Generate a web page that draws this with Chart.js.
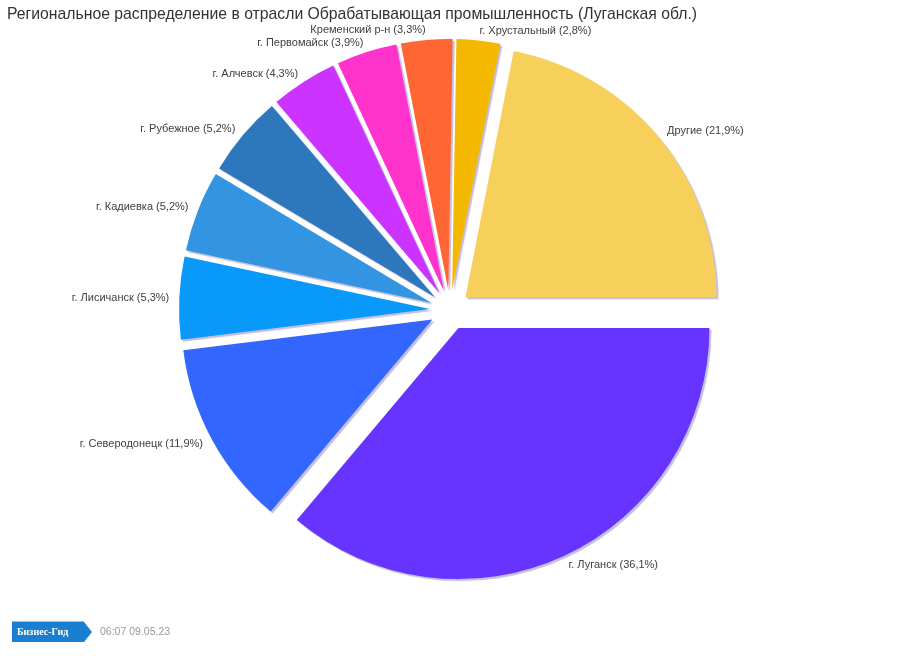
<!DOCTYPE html>
<html lang="ru">
<head>
    <meta charset="UTF-8">
    <title>Региональное распределение</title>
    <script src="https://cdn.jsdelivr.net/npm/chart.js"></script>
    <style>
        html, body {
            margin: 0;
            padding: 0;
            background: #ffffff;
        }
        #wrap {
            width: 900px;
            height: 660px;
            position: relative;
        }
    </style>
</head>
<body>
    <div id="wrap">
        <canvas id="pieChart" width="900" height="660"></canvas>
    </div>

    <script>
        const regions = [
            "г. Луганск",
            "г. Северодонецк",
            "г. Лисичанск",
            "г. Кадиевка",
            "г. Рубежное",
            "г. Алчевск",
            "г. Первомайск",
            "Кременский р-н",
            "г. Хрустальный",
            "Другие"
        ];
        const shares = [36.1, 11.9, 5.3, 5.2, 5.2, 4.3, 3.9, 3.3, 2.8, 21.9];
        const sliceColors = [
            "#6633ff", "#3366ff", "#0899fa", "#3395e2", "#2d77bd",
            "#cc33ff", "#ff33cc", "#ff6633", "#f4b800", "#f7d05c"
        ];
        const chartTitle = "Региональное распределение в отрасли Обрабатывающая промышленность (Луганская обл.)";
        const stamp = "06:07 09.05.23";
        const brand = "Бизнес-Гид";

        const EXPLODE = 20; // вынос секторов от центра, px
        const labelFont = '11px "Liberation Sans", Arial, sans-serif';

        // рисуем сектора сами: каждый сдвинут по биссектрисе, с тенью
        const explodePlugin = {
            id: 'explode',
            beforeDatasetDraw(chart, args) {
                const ctx = chart.ctx;
                ctx.save();
                ctx.shadowColor = 'rgba(120, 110, 170, 0.45)';
                ctx.shadowOffsetX = 2;
                ctx.shadowOffsetY = 2;
                ctx.shadowBlur = 1;
                args.meta.data.forEach(arc => {
                    const mid = (arc.startAngle + arc.endAngle) / 2;
                    ctx.save();
                    ctx.translate(Math.cos(mid) * EXPLODE, Math.sin(mid) * EXPLODE);
                    arc.draw(ctx);
                    ctx.restore();
                });
                ctx.restore();
                return false;
            }
        };

        // подписи секторов снаружи
        const outLabels = {
            id: 'outLabels',
            afterDatasetsDraw(chart) {
                const ctx = chart.ctx;
                const meta = chart.getDatasetMeta(0);
                ctx.save();
                ctx.font = labelFont;
                ctx.fillStyle = '#404040';
                ctx.textBaseline = 'middle';
                meta.data.forEach((arc, i) => {
                    const p = arc.getProps(['x', 'y', 'startAngle', 'endAngle', 'outerRadius'], true);
                    const mid = (p.startAngle + p.endAngle) / 2;
                    const r = p.outerRadius + EXPLODE + 10;
                    const cx = p.x + Math.cos(mid) * r;
                    const cy = p.y + Math.sin(mid) * r;
                    ctx.textAlign = Math.cos(mid) >= 0 ? 'left' : 'right';
                    const txt = regions[i] + ' (' + shares[i].toFixed(1).replace('.', ',') + '%)';
                    ctx.fillText(txt, cx, cy);
                });
                ctx.restore();
            }
        };

        // логотип и время внизу
        const footer = {
            id: 'footer',
            afterDraw(chart) {
                const ctx = chart.ctx;
                ctx.save();
                ctx.fillStyle = '#1a7fd0';
                ctx.beginPath();
                ctx.moveTo(12, 622);
                ctx.lineTo(84, 622);
                ctx.lineTo(92, 632);
                ctx.lineTo(84, 642);
                ctx.lineTo(12, 642);
                ctx.closePath();
                ctx.fill();
                ctx.strokeStyle = '#8fc4ee';
                ctx.lineWidth = 1;
                ctx.beginPath();
                ctx.moveTo(12, 621.5);
                ctx.lineTo(84, 621.5);
                ctx.stroke();
                ctx.fillStyle = '#ffffff';
                ctx.font = 'bold 10px "Liberation Serif", serif';
                ctx.textAlign = 'left';
                ctx.textBaseline = 'middle';
                ctx.fillText(brand, 17, 632);
                ctx.fillStyle = '#9a9a9a';
                ctx.font = '10.5px "Liberation Sans", Arial, sans-serif';
                ctx.fillText(stamp, 100, 632);
                ctx.restore();
            }
        };

        const ctx = document.getElementById('pieChart').getContext('2d');
        const chart = new Chart(ctx, {
            type: 'pie',
            data: {
                labels: regions,
                datasets: [{
                    data: shares,
                    backgroundColor: sliceColors,
                    borderWidth: 0
                }]
            },
            options: {
                responsive: false,
                animation: false,
                rotation: 90,
                radius: 251,
                layout: {
                    padding: { left: 7, right: 7, top: 0, bottom: 69 }
                },
                plugins: {
                    legend: { display: false },
                    tooltip: { enabled: false },
                    title: {
                        display: true,
                        text: chartTitle,
                        align: 'start',
                        color: '#333333',
                        font: { family: '"Liberation Sans", Arial, sans-serif', size: 15.75, weight: 'normal' },
                        padding: { top: 5, bottom: 5 }
                    }
                }
            },
            plugins: [explodePlugin, outLabels, footer]
        });
    </script>
</body>
</html>
